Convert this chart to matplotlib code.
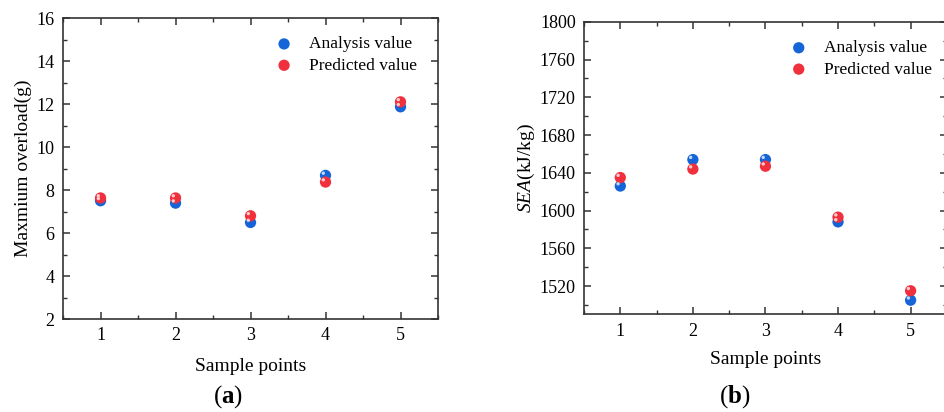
import matplotlib
matplotlib.use("Agg")
import matplotlib.pyplot as plt
from matplotlib.transforms import ScaledTranslation
from matplotlib.ticker import MultipleLocator

plt.rcParams["font.family"] = ["Liberation Serif", "DejaVu Serif"]
plt.rcParams["mathtext.fontset"] = "custom"
plt.rcParams["mathtext.rm"] = "Liberation Serif"
plt.rcParams["mathtext.it"] = "Liberation Serif:italic"
plt.rcParams["mathtext.bf"] = "Liberation Serif:bold"

# data
samples = [1, 2, 3, 4, 5]
overload_analysis = [7.50, 7.39, 6.49, 8.68, 11.87]
overload_predicted = [7.63, 7.63, 6.80, 8.37, 12.10]
sea_analysis = [1626, 1654, 1654, 1588, 1505]
sea_predicted = [1635, 1644, 1647, 1593, 1515]

BLUE = "#1565d8"
RED = "#f0303c"
SPINE = "#333333"


def sphere(ax, x, y, color, label):
    ax.scatter(x, y, s=66, color=color, edgecolors="none", zorder=3, label=label)
    # small specular spot, up and left of centre
    off = ScaledTranslation(-1.6 / 72, 1.6 / 72, ax.figure.dpi_scale_trans)
    ax.scatter(x, y, s=6, color="white", alpha=0.75, edgecolors="none",
               zorder=4, transform=ax.transData + off)


def style(ax):
    for sp in ax.spines.values():
        sp.set_linewidth(1.2)
        sp.set_color(SPINE)
    ax.tick_params(which="both", direction="in", top=True, right=True,
                   color=SPINE, labelsize=13, pad=6)
    ax.tick_params(which="major", length=5, width=1.1)
    ax.tick_params(which="minor", length=3, width=1.0)
    ax.set_xlim(0.5, 5.5)
    ax.set_xticks(samples)
    ax.xaxis.set_minor_locator(MultipleLocator(0.5))


fig = plt.figure(figsize=(9.45, 4.12), dpi=100)

# panel (a)
ax1 = fig.add_axes([0.0667, 0.2257, 0.3968, 0.7306])
sphere(ax1, samples, overload_analysis, BLUE, "Analysis value")
sphere(ax1, samples, overload_predicted, RED, "Predicted value")
style(ax1)
ax1.set_ylim(2, 16)
ax1.yaxis.set_major_locator(MultipleLocator(2))
ax1.yaxis.set_minor_locator(MultipleLocator(1))
ax1.set_xlabel("Sample points", fontsize=14, labelpad=10)
ax1.set_ylabel("Maxmium overload(g)", fontsize=14, labelpad=3)
ax1.legend(loc="upper left", bbox_to_anchor=(0.52, 0.968), frameon=False,
           fontsize=12.5, handletextpad=0.45, labelspacing=0.3, borderpad=0,
           scatterpoints=1)

# panel (b), clipped at the right edge like the reference
ax2 = fig.add_axes([0.618, 0.237, 0.384, 0.710])
sphere(ax2, samples, sea_analysis, BLUE, "Analysis value")
sphere(ax2, samples, sea_predicted, RED, "Predicted value")
style(ax2)
ax2.set_ylim(1490, 1800)
ax2.yaxis.set_major_locator(MultipleLocator(40))
ax2.yaxis.set_minor_locator(MultipleLocator(20))
ax2.set_xlabel("Sample points", fontsize=14, labelpad=8)
ax2.set_ylabel(r"$\mathit{SEA}$(kJ/kg)", fontsize=14, labelpad=2)
ax2.legend(loc="upper left", bbox_to_anchor=(0.52, 0.967), frameon=False,
           fontsize=12.5, handletextpad=0.45, labelspacing=0.3, borderpad=0,
           scatterpoints=1)

fig.text(228 / 945, 1 - 397 / 412, r"($\mathbf{a}$)", fontsize=18,
         ha="center", va="center")
fig.text(735 / 945, 1 - 397 / 412, r"($\mathbf{b}$)", fontsize=18,
         ha="center", va="center")

fig.savefig("out.png", dpi=100, facecolor="white")
